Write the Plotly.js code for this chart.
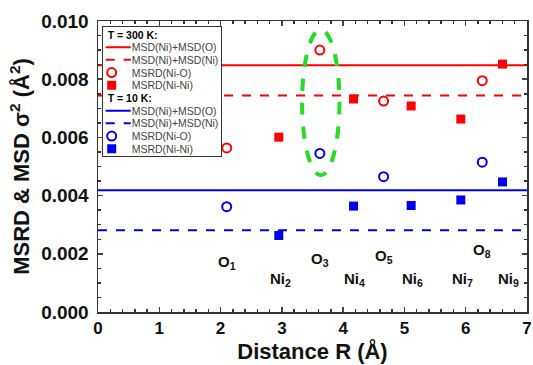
<!DOCTYPE html>
<html><head><meta charset="utf-8">
<script src="https://cdn.plot.ly/plotly-3.0.1.min.js"></script>
<style>html,body{margin:0;padding:0;background:#fff}#chart{width:533px;height:365px}</style>
</head><body><div id="chart"></div>
<script>
// Distances (Å)
const rO = [2.10, 3.62, 4.66, 6.27];
const rNi = [2.95, 4.17, 5.11, 5.92, 6.60];
const labelsO = ["O<sub>1</sub>", "O<sub>3</sub>", "O<sub>5</sub>", "O<sub>8</sub>"];
const labelsNi = ["Ni<sub>2</sub>", "Ni<sub>4</sub>", "Ni<sub>6</sub>", "Ni<sub>7</sub>", "Ni<sub>9</sub>"];
// T = 300 K
const msrdNiO_300 = [0.00564, 0.00900, 0.00725, 0.00795];
const msrdNiNi_300 = [0.00601, 0.00732, 0.00708, 0.00663, 0.00852];
const msdNiO_300 = 0.00848;
const msdNiNi_300 = 0.00744;
// T = 10 K
const msrdNiO_10 = [0.00362, 0.00545, 0.00465, 0.00515];
const msrdNiNi_10 = [0.00263, 0.00364, 0.00366, 0.00385, 0.00447];
const msdNiO_10 = 0.00418;
const msdNiNi_10 = 0.00281;
const xRange = [0, 7];

const FONT = 'Liberation Sans, Arial, sans-serif';
const RED = '#ff0000', BLUE = '#0000ee';
const hline = (v, color, dash, name, grp, title) => ({
  x: xRange, y: [v, v], mode: 'lines', name: name,
  line: {color: color, width: 2, dash: dash},
  legendgroup: grp, legendgrouptitle: title ? {text: title, font: {size: 10.5, color: '#000', family: FONT}} : undefined
});
const traces = [
  hline(msdNiO_300, RED, 'solid', 'MSD(Ni)+MSD(O)', 'g300', '<b>T = 300 K:</b>'),
  hline(msdNiNi_300, RED, 'dash', 'MSD(Ni)+MSD(Ni)', 'g300'),
  {x: rO, y: msrdNiO_300, mode: 'markers', name: 'MSRD(Ni-O)', legendgroup: 'g300',
   marker: {symbol: 'circle-open', size: 9, color: RED, line: {width: 2, color: RED}}},
  {x: rNi, y: msrdNiNi_300, mode: 'markers', name: 'MSRD(Ni-Ni)', legendgroup: 'g300',
   marker: {symbol: 'square', size: 9, color: RED}},
  hline(msdNiO_10, BLUE, 'solid', 'MSD(Ni)+MSD(O)', 'g10', '<b>T = 10 K:</b>'),
  hline(msdNiNi_10, BLUE, 'dash', 'MSD(Ni)+MSD(Ni)', 'g10'),
  {x: rO, y: msrdNiO_10, mode: 'markers', name: 'MSRD(Ni-O)', legendgroup: 'g10',
   marker: {symbol: 'circle-open', size: 9, color: BLUE, line: {width: 2, color: BLUE}}},
  {x: rNi, y: msrdNiNi_10, mode: 'markers', name: 'MSRD(Ni-Ni)', legendgroup: 'g10',
   marker: {symbol: 'square', size: 9, color: BLUE}}
];

const ann = [];
const oY = [0.00170, 0.00180, 0.00190, 0.00210];
const lblFont = {size: 15, family: FONT, color: '#111', weight: 'bold'};
rO.forEach((r, i) => ann.push({x: r, y: oY[i], text: labelsO[i], showarrow: false, font: lblFont}));
rNi.forEach((r, i) => ann.push({x: r + (i === 4 ? 0.1 : 0.02), y: 0.00110, text: labelsNi[i], showarrow: false, font: lblFont}));

const layout = {
  width: 533, height: 365,
  margin: {l: 98, r: 6, t: 21, b: 53},
  paper_bgcolor: '#fff', plot_bgcolor: '#fff',
  showlegend: true,
  legend: {x: 0.0086, y: 0.983, xanchor: 'left', yanchor: 'top', bgcolor: '#fff',
    bordercolor: '#333', borderwidth: 1, tracegroupgap: 0, itemwidth: 30,
    font: {size: 10.5, family: FONT, color: '#444'}, traceorder: 'grouped'},
  xaxis: {range: xRange, dtick: 1, ticks: 'inside', ticklen: 5, tickwidth: 1.5, mirror: 'ticks',
    showline: true, linecolor: '#333', linewidth: 1.5, showgrid: false, zeroline: false,
    minor: {dtick: 0.2, ticks: 'inside', ticklen: 3, tickcolor: '#333'},
    tickfont: {size: 17, family: FONT, color: '#111', weight: 'bold'},
    title: {text: 'Distance R (Å)', font: {size: 22, family: FONT, color: '#111', weight: 'bold'}, standoff: 1}},
  yaxis: {range: [0, 0.010], dtick: 0.002, tickformat: '.3f', ticks: 'inside', ticklen: 5, tickwidth: 1.5, mirror: 'ticks',
    showline: true, linecolor: '#333', linewidth: 1.5, showgrid: false, zeroline: false,
    ticklabelstandoff: 4,
    minor: {dtick: 0.0005, ticks: 'inside', ticklen: 3, tickcolor: '#333'},
    tickfont: {size: 19, family: FONT, color: '#111', weight: 'bold'},
    // trailing no-break spaces push the visible title slightly below the axis centre, as in the original
    title: {text: 'MSRD & MSD σ<sup>2</sup> (Å<sup>2</sup>)\u00a0\u00a0\u00a0\u00a0', font: {size: 22, family: FONT, color: '#111', weight: 'bold'}, standoff: 5}},
  shapes: [{type: 'circle', xref: 'x', yref: 'y', x0: 3.33, x1: 3.94, y0: 0.0047, y1: 0.0097,
    line: {color: '#22dd22', width: 4, dash: 'dash'}}],
  annotations: ann
};

function tweak(gd) {
  // compact the legend to the original's tight row spacing
  const leg = gd.querySelector('g.legend');
  if (leg) {
    leg.querySelectorAll('g.groups').forEach(g => g.setAttribute('transform', 'translate(0,0)'));
    const items = leg.querySelectorAll('g.traces');
    const ROW = 12.7, Y0 = 8.5;
    let maxRight = 0;
    items.forEach((it, i) => {
      const m = /translate\(\s*([-\d.e]+)[\s,]+([-\d.e]+)\s*\)/.exec(it.getAttribute('transform') || '');
      const x = m ? parseFloat(m[1]) : 0;
      it.setAttribute('transform', 'translate(' + x + ',' + (Y0 + i * ROW) + ')');
      const t = it.querySelector('text.legendtext');
      if (t && parseFloat(t.getAttribute('x') || 0) >= 30) {
        t.setAttribute('x', 29);
        t.querySelectorAll('tspan[x]').forEach(s => s.setAttribute('x', 29));
      }
      it.querySelectorAll('.legendlines path').forEach(p => p.setAttribute('d', 'M3,0h25'));
      it.querySelectorAll('path.scatterpts').forEach(p => p.setAttribute('transform', 'translate(9,0)'));
      if (t) { const b = t.getBBox(); maxRight = Math.max(maxRight, x + b.x + b.width); }
    });
    const bg = leg.querySelector('rect.bg');
    if (bg) {
      bg.setAttribute('height', Y0 + (items.length - 1) * ROW + 7);
      if (maxRight > 0) bg.setAttribute('width', maxRight + 3);
    }
  }
}
Plotly.newPlot('chart', traces, layout, {displayModeBar: false, staticPlot: true}).then(gd => {
  tweak(gd);
});
</script></body></html>
